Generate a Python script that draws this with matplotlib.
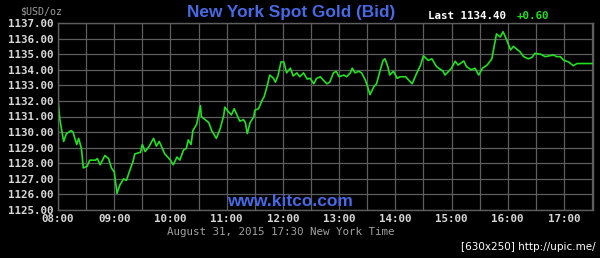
import matplotlib
matplotlib.use("Agg")
import matplotlib.pyplot as plt
from matplotlib.ticker import MultipleLocator

# minutes after 08:00 and bid price
minutes = [0, 2, 6, 9, 14, 16, 20, 22, 25, 27, 31, 34, 40, 42, 45, 50, 54, 57,
           60, 63, 66, 70, 73, 77, 80, 82, 88, 90, 93, 97, 102, 105, 108, 114,
           120, 123, 127, 130, 134, 137, 139, 142, 144, 148, 150, 152, 153, 157,
           161, 164, 169, 173, 177, 178, 182, 185, 188, 191, 194, 198, 200, 202,
           205, 209, 210, 214, 218, 220, 223, 226, 230, 232, 235, 238, 241, 244,
           248, 251, 255, 258, 262, 266, 269, 273, 276, 280, 283, 287, 290, 294,
           297, 300, 305, 308, 312, 314, 317, 321, 324, 328, 331, 333, 337, 340,
           344, 347, 349, 352, 354, 358, 362, 365, 371, 378, 383, 387, 390, 395,
           399, 404, 411, 413, 417, 420, 424, 427, 433, 436, 441, 445, 449, 453,
           458, 463, 467, 468, 472, 475, 479, 483, 486, 490, 493, 497, 502, 506,
           509, 515, 520, 525, 529, 532, 536, 540, 545, 550, 554, 570]
prices = [1132.06, 1130.8, 1129.4, 1129.9, 1130.1, 1130.0, 1129.2, 1129.6,
          1128.95, 1127.7, 1127.8, 1128.2, 1128.2, 1128.3, 1127.9, 1128.5,
          1128.3, 1127.7, 1127.45, 1126.07, 1126.6, 1127.0, 1126.9, 1127.6,
          1128.1, 1128.6, 1128.7, 1129.2, 1128.75, 1129.06, 1129.6, 1129.1,
          1129.4, 1128.6, 1128.2, 1127.9, 1128.4, 1128.2, 1128.85, 1128.96,
          1129.5, 1129.2, 1130.1, 1130.5, 1131.1, 1131.7, 1131.0, 1130.8,
          1130.6, 1130.1, 1129.6, 1130.2, 1131.1, 1131.6, 1131.3, 1131.1,
          1131.5, 1131.1, 1130.7, 1130.8, 1130.6, 1129.9, 1130.6, 1131.0,
          1131.4, 1131.5, 1132.06, 1132.27, 1132.9, 1133.66, 1133.45, 1133.2,
          1133.66, 1134.5, 1134.5, 1133.8, 1134.1, 1133.6, 1133.8, 1133.55,
          1133.8, 1133.4, 1133.45, 1133.1, 1133.45, 1133.55, 1133.34, 1133.1,
          1133.2, 1133.8, 1133.9, 1133.55, 1133.66, 1133.55, 1133.8, 1134.1,
          1133.8, 1133.9, 1133.8, 1133.34, 1132.8, 1132.4, 1132.9, 1133.1,
          1134.0, 1134.6, 1134.7, 1134.2, 1133.66, 1133.9, 1133.45, 1133.55,
          1133.55, 1133.1, 1133.8, 1134.3, 1134.9, 1134.6, 1134.7, 1134.2,
          1133.9, 1133.66, 1133.9, 1134.1, 1134.55, 1134.3, 1134.56, 1134.2,
          1134.0, 1134.1, 1133.66, 1134.1, 1134.3, 1134.7, 1136.0, 1136.3,
          1136.1, 1136.44, 1135.9, 1135.27, 1135.5, 1135.3, 1135.16, 1134.84,
          1134.7, 1134.8, 1135.05, 1135.0, 1134.84, 1134.9, 1134.95, 1134.84,
          1134.84, 1134.6, 1134.5, 1134.26, 1134.4, 1134.4]

hour_labels = ["08:00", "09:00", "10:00", "11:00", "12:00", "13:00",
               "14:00", "15:00", "16:00", "17:00"]
y_min, y_max = 1125, 1137
last_price = "1134.40"
change = "+0.60"

mono = "DejaVu Sans Mono"
grid_col = "#5e5e5e"
label_col = "#d8d8d8"
blue = "#4769e4"

fig = plt.figure(figsize=(6, 2.58), dpi=100, facecolor="black")
ax = fig.add_axes([58 / 600, 1 - 210 / 258, 535 / 600, 187 / 258])
ax.set_facecolor("black")

ax.plot(minutes, prices, color="#22e022", linewidth=1.2)

ax.set_xlim(0, 571)
ax.set_ylim(y_min, y_max)
ax.set_xticks([60 * i for i in range(len(hour_labels))])
ax.set_xticklabels(hour_labels)
ax.xaxis.set_minor_locator(MultipleLocator(30))
ax.set_yticks(range(y_min, y_max + 1))
ax.set_yticklabels([f"{v}.00" for v in range(y_min, y_max + 1)])

ax.grid(True, which="both", color=grid_col, linewidth=0.9)
ax.set_axisbelow(True)
ax.tick_params(which="both", length=0, colors=label_col, pad=3)
for lab in ax.get_xticklabels() + ax.get_yticklabels():
    lab.set_fontfamily(mono)
    lab.set_fontweight("bold")
    lab.set_fontsize(7.8)
for sp in ax.spines.values():
    sp.set_color(grid_col)
    sp.set_linewidth(1.0)

fig.text(41 / 600, 1 - 11 / 258, "$USD/oz", color="#a0a0a0", fontfamily=mono,
         fontsize=7.2, ha="center", va="center")
fig.text(291 / 600, 1 - 12 / 258, "New York Spot Gold (Bid)", color=blue,
         fontfamily="Liberation Sans", fontweight="bold", fontsize=12.4,
         ha="center", va="center")
fig.text(428 / 600, 1 - 16 / 258, f"Last {last_price}", color="white",
         fontfamily=mono, fontweight="bold", fontsize=7.8, ha="left", va="center")
fig.text(517 / 600, 1 - 16 / 258, change, color="#22dd22",
         fontfamily=mono, fontweight="bold", fontsize=7.8, ha="left", va="center")
fig.text(290 / 600, 1 - 202 / 258, "www.kitco.com", color=blue,
         fontfamily="Liberation Sans", fontweight="bold", fontsize=12.5,
         ha="center", va="center")
fig.text(281 / 600, 1 - 232 / 258, "August 31, 2015 17:30 New York Time",
         color="#a0a0a0", fontfamily=mono, fontsize=7.8, ha="center", va="center")
fig.text(596 / 600, 1 - 247 / 258, "[630x250] http://upic.me/", color="white",
         fontfamily="DejaVu Sans", fontsize=7.5, ha="right", va="center")

fig.savefig("out.png", dpi=100, facecolor="black")
